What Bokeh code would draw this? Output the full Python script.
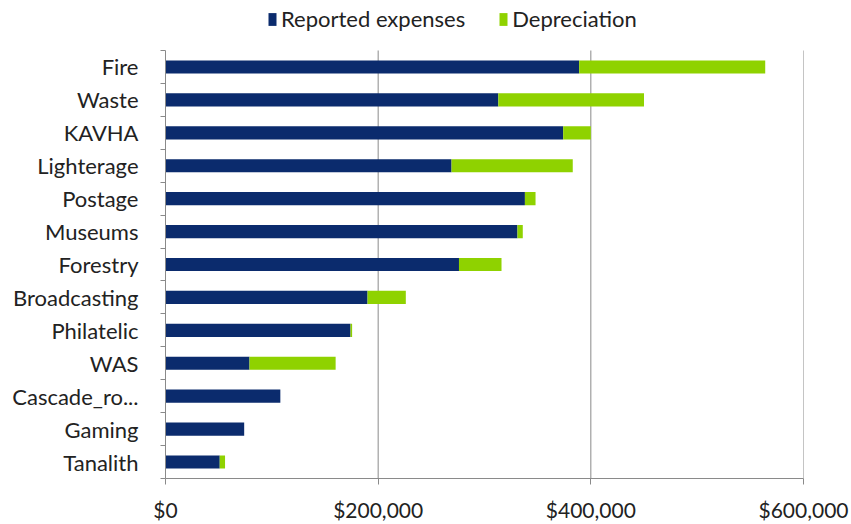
from bokeh.plotting import figure
from bokeh.models import (ColumnDataSource, FixedTicker, NumeralTickFormatter,
                          Legend, LegendItem, Range1d)
from bokeh.embed import file_html
from bokeh.resources import INLINE

# ---- data ----
categories = ["Fire", "Waste", "KAVHA", "Lighterage", "Postage", "Museums",
              "Forestry", "Broadcasting", "Philatelic", "WAS", "Cascade_ro...",
              "Gaming", "Tanalith"]
reported = [389000, 313000, 374000, 269000, 338000, 331000, 276000,
            190000, 174000, 79000, 108000, 74000, 51000]
depreciation = [175000, 137000, 26000, 114000, 10000, 5000, 40000,
                36000, 1500, 81000, 0, 0, 5000]
x_ticks = [0, 200000, 400000, 600000]
series_names = ["Reported expenses", "Depreciation"]
series_colors = ["#0b2b6d", "#8fd200"]

FONT = "Lato"
n = len(categories)
ypos = [n - i - 0.5 for i in range(n)]

W, H = 851, 524
LEFT, RIGHT, BOTTOM = 165, 48, 46
BAR_AREA_PX = 428                      # pixel height of the category area
FRAME_H = H - BOTTOM                   # frame also holds the legend strip on top
y_top = n * FRAME_H / BAR_AREA_PX

src = ColumnDataSource(dict(y=ypos, cat=categories,
                            reported=reported, depreciation=depreciation))

p = figure(width=W, height=H, output_backend="svg", toolbar_location=None,
           x_range=Range1d(0, x_ticks[-1]), y_range=Range1d(0, y_top),
           min_border_left=LEFT, min_border_right=RIGHT,
           min_border_top=0, min_border_bottom=BOTTOM)
p.outline_line_color = None
p.background_fill_color = "white"
p.border_fill_color = "white"

# vertical grid lines, limited to the category area
grid_x = x_ticks[1:]
p.segment(x0=grid_x, x1=grid_x, y0=[0] * len(grid_x), y1=[n] * len(grid_x),
          line_color="#8a8a8a", line_width=1)

rs = p.hbar_stack(["reported", "depreciation"], y="y", height=0.4,
                  fill_color=series_colors, line_color=None, source=src)

# x axis
p.xaxis.ticker = FixedTicker(ticks=x_ticks, minor_ticks=[])
p.xaxis.formatter = NumeralTickFormatter(format="$0,0")
p.xaxis.axis_line_color = "#8a8a8a"
p.xaxis.major_tick_line_color = "#8a8a8a"
p.xaxis.major_tick_out = 6
p.xaxis.major_tick_in = 0
p.xaxis.minor_tick_line_color = None
p.xaxis.major_label_standoff = 12
p.xaxis.major_label_text_font = FONT
p.xaxis.major_label_text_font_size = "21px"
p.xaxis.major_label_text_color = "#222222"

# y axis: labels at centers, ticks at category boundaries
p.yaxis.ticker = FixedTicker(ticks=ypos, minor_ticks=list(range(n + 1)))
p.yaxis.major_label_overrides = {y: c for y, c in zip(ypos, categories)}
p.yaxis.bounds = (0, n)
p.yaxis.axis_line_color = "#8a8a8a"
p.yaxis.major_tick_line_color = None
p.yaxis.minor_tick_line_color = "#8a8a8a"
p.yaxis.minor_tick_out = 5
p.yaxis.minor_tick_in = 0
p.yaxis.major_label_standoff = 21
p.yaxis.major_label_text_font = FONT
p.yaxis.major_label_text_font_size = "22px"
p.yaxis.major_label_text_color = "#222222"

p.xgrid.grid_line_color = None
p.ygrid.grid_line_color = None

legend = Legend(items=[LegendItem(label=nm, renderers=[r]) for nm, r in zip(series_names, rs)],
                orientation="horizontal", location=(102, FRAME_H - 32),
                glyph_width=10, glyph_height=16, label_standoff=4, spacing=33,
                padding=0, margin=0, border_line_color=None,
                background_fill_alpha=0,
                label_text_font=FONT, label_text_font_size="22px",
                label_text_color="#222222")
p.add_layout(legend, "center")

open("out.html", "w").write(file_html(p, INLINE))
